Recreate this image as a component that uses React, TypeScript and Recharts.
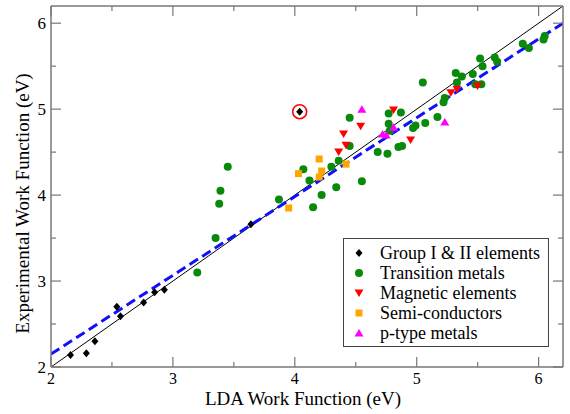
import {
  Legend,
  ReferenceLine,
  Scatter,
  ScatterChart,
  XAxis,
  YAxis,
} from "recharts";

// LDA vs experimental work function (eV)
const groupOneTwo = [
  [2.16, 2.14], [2.29, 2.16], [2.36, 2.3], [2.54, 2.7], [2.57, 2.59],
  [2.76, 2.75], [2.85, 2.87], [2.93, 2.9], [3.64, 3.66], [4.04, 4.97],
];
const transition = [
  [3.2, 3.1], [3.35, 3.5], [3.38, 3.9], [3.39, 4.05], [3.45, 4.33],
  [3.87, 3.95], [4.07, 4.3], [4.12, 4.17], [4.15, 3.86], [4.22, 4.0],
  [4.3, 4.33], [4.34, 4.09], [4.36, 4.4], [4.45, 4.9], [4.45, 4.57],
  [4.55, 4.16], [4.68, 4.5], [4.76, 4.48], [4.77, 4.95], [4.77, 4.83],
  [4.78, 4.75], [4.85, 4.56], [4.88, 4.57], [4.87, 4.96], [4.97, 4.78],
  [4.99, 4.81], [5.07, 4.84], [5.05, 5.31], [5.17, 4.91], [5.22, 5.08],
  [5.23, 5.13], [5.32, 5.42], [5.33, 5.31], [5.37, 5.38], [5.46, 5.41],
  [5.48, 5.29], [5.53, 5.29], [5.52, 5.59], [5.54, 5.5], [5.64, 5.6],
  [5.66, 5.55], [5.87, 5.76], [5.92, 5.71], [6.05, 5.85], [6.04, 5.81],
];
const magnetic = [
  [4.36, 4.5], [4.4, 4.71], [4.42, 4.58], [4.54, 4.8], [4.81, 4.99],
  [4.95, 4.64], [5.28, 5.19], [5.33, 5.23], [5.5, 5.27],
];
const semiconductors = [
  [3.95, 3.85], [4.03, 4.25], [4.2, 4.42], [4.2, 4.21], [4.22, 4.28], [4.42, 4.36],
];
const pType = [
  [4.55, 5.0], [4.72, 4.71], [4.75, 4.7], [4.81, 4.79], [5.23, 4.85],
];
const outlier = [[4.04, 4.97]];

const parityLine = [[2, 2], [6.2, 6.2]];
const fitLine = [[2, 2.15], [6.2, 6.0]];

const ticks = [2, 2.5, 3, 3.5, 4, 4.5, 5, 5.5, 6];
const domain = [2, 6.2];

const toPts = (arr: number[][]) => arr.map(([x, y]) => ({ x, y }));

const frame = "#777";
const serif = "'Liberation Serif', 'DejaVu Serif', serif";

const Diamond = ({ cx, cy, fill }: any) => (
  <polygon points={`${cx},${cy - 4} ${cx + 3.5},${cy} ${cx},${cy + 4} ${cx - 3.5},${cy}`} fill={fill} />
);
const Dot = ({ cx, cy, fill }: any) => <circle cx={cx} cy={cy} r={4} fill={fill} />;
const Square = ({ cx, cy, fill }: any) => (
  <rect x={cx - 3.5} y={cy - 3.5} width={7} height={7} fill={fill} />
);
const TriDown = ({ cx, cy, fill }: any) => (
  <polygon points={`${cx - 4.5},${cy - 3.5} ${cx + 4.5},${cy - 3.5} ${cx},${cy + 4}`} fill={fill} />
);
const TriUp = ({ cx, cy, fill }: any) => (
  <polygon points={`${cx - 4.5},${cy + 3.5} ${cx + 4.5},${cy + 3.5} ${cx},${cy - 4}`} fill={fill} />
);
const Ring = ({ cx, cy }: any) => (
  <circle cx={cx} cy={cy} r={7} fill="none" stroke="#ff0000" strokeWidth={1.6} />
);

const series = [
  { name: "Group I & II elements", data: groupOneTwo, color: "#000000", shape: Diamond },
  { name: "Transition metals", data: transition, color: "#0a8a0a", shape: Dot },
  { name: "Magnetic elements", data: magnetic, color: "#ff0000", shape: TriDown },
  { name: "Semi-conductors", data: semiconductors, color: "#ffa500", shape: Square },
  { name: "p-type metals", data: pType, color: "#ff00ff", shape: TriUp },
];

const major = (v: number) => Number.isInteger(v);

const BottomTick = ({ x, y, payload }: any) => (
  <g>
    <line x1={x} x2={x} y1={y} y2={y - (major(payload.value) ? 10 : 5)} stroke={frame} strokeWidth={1.2} />
    {major(payload.value) && (
      <text x={x} y={y + 17} textAnchor="middle" fontSize={16} fontFamily={serif} fill="#000">
        {payload.value}
      </text>
    )}
  </g>
);
const TopTick = ({ x, y, payload }: any) => (
  <line x1={x} x2={x} y1={y} y2={y + (major(payload.value) ? 10 : 5)} stroke={frame} strokeWidth={1.2} />
);
const LeftTick = ({ x, y, payload }: any) => (
  <g>
    <line x1={x} x2={x + (major(payload.value) ? 10 : 5)} y1={y} y2={y} stroke={frame} strokeWidth={1.2} />
    {major(payload.value) && (
      <text x={x - 5} y={y + 6} textAnchor="end" fontSize={17} fontFamily={serif} fill="#000">
        {payload.value}
      </text>
    )}
  </g>
);
const RightTick = ({ x, y, payload }: any) => (
  <line x1={x} x2={x - (major(payload.value) ? 10 : 5)} y1={y} y2={y} stroke={frame} strokeWidth={1.2} />
);

const XTitle = ({ viewBox }: any) => (
  <text x={viewBox.x + viewBox.width / 2 - 4} y={viewBox.y + 38} textAnchor="middle" fontSize={19} fontFamily={serif} fill="#000">
    LDA Work Function (eV)
  </text>
);
const YTitle = ({ viewBox }: any) => {
  const cx = viewBox.x + 22;
  const cy = viewBox.y + viewBox.height / 2 + 17;
  return (
    <text x={cx} y={cy} transform={`rotate(-90, ${cx}, ${cy})`} textAnchor="middle" dominantBaseline="central" fontSize={19} fontFamily={serif} fill="#000">
      Experimental Work Function (eV)
    </text>
  );
};

const LegendBox = () => (
  <div
    style={{
      border: "1px solid #444",
      background: "#fff",
      width: 206,
      height: 109,
      boxSizing: "border-box",
      padding: "4px 0 0 0",
      fontFamily: serif,
      fontSize: 18,
      lineHeight: "20px",
    }}
  >
    {series.map((s) => (
      <div key={s.name} style={{ display: "flex", alignItems: "center", height: 20 }}>
        <svg width={36} height={20}>
          <s.shape cx={15} cy={10} fill={s.color} />
        </svg>
        <span>{s.name}</span>
      </div>
    ))}
  </div>
);

const App = () => (
  <div style={{ position: "absolute", left: 0, top: 0 }}>
    <ScatterChart width={570} height={414} margin={{ top: 0, right: 0, bottom: 0, left: 0 }}>
      <XAxis
        xAxisId="b"
        type="number"
        dataKey="x"
        domain={domain}
        ticks={ticks}
        allowDataOverflow
        height={47}
        tickSize={0}
        tickMargin={0}
        tick={<BottomTick />}
        axisLine={{ stroke: frame, strokeWidth: 1.5 }}
        label={<XTitle />}
      />
      <XAxis
        xAxisId="t"
        orientation="top"
        type="number"
        dataKey="x"
        domain={domain}
        ticks={ticks}
        allowDataOverflow
        height={6}
        tickSize={0}
        tickMargin={0}
        tick={<TopTick />}
        axisLine={{ stroke: frame, strokeWidth: 1.5 }}
      />
      <YAxis
        yAxisId="l"
        type="number"
        dataKey="y"
        domain={domain}
        ticks={ticks}
        allowDataOverflow
        width={51}
        tickSize={0}
        tickMargin={0}
        tick={<LeftTick />}
        axisLine={{ stroke: frame, strokeWidth: 1.5 }}
        label={<YTitle />}
      />
      <YAxis
        yAxisId="r"
        orientation="right"
        type="number"
        dataKey="y"
        domain={domain}
        ticks={ticks}
        allowDataOverflow
        width={7}
        tickSize={0}
        tickMargin={0}
        tick={<RightTick />}
        axisLine={{ stroke: frame, strokeWidth: 1.5 }}
      />
      <ReferenceLine
        xAxisId="b"
        yAxisId="l"
        segment={toPts(parityLine)}
        stroke="#000"
        strokeWidth={1}
        ifOverflow="hidden"
      />
      <ReferenceLine
        xAxisId="b"
        yAxisId="l"
        segment={toPts(fitLine)}
        stroke="#1010ff"
        strokeWidth={3}
        strokeDasharray="10 5"
        ifOverflow="hidden"
      />
      {series.map((s) => (
        <Scatter
          key={s.name}
          name={s.name}
          xAxisId="b"
          yAxisId="l"
          data={toPts(s.data)}
          fill={s.color}
          shape={s.shape}
          isAnimationActive={false}
        />
      ))}
      <Scatter
        xAxisId="b"
        yAxisId="l"
        data={toPts(outlier)}
        shape={Ring}
        legendType="none"
        isAnimationActive={false}
      />
      <Legend
        layout="vertical"
        align="center"
        verticalAlign="middle"
        content={<LegendBox />}
        wrapperStyle={{ left: 343, top: 238, width: 206, height: 109 }}
      />
    </ScatterChart>
  </div>
);

export default App;
